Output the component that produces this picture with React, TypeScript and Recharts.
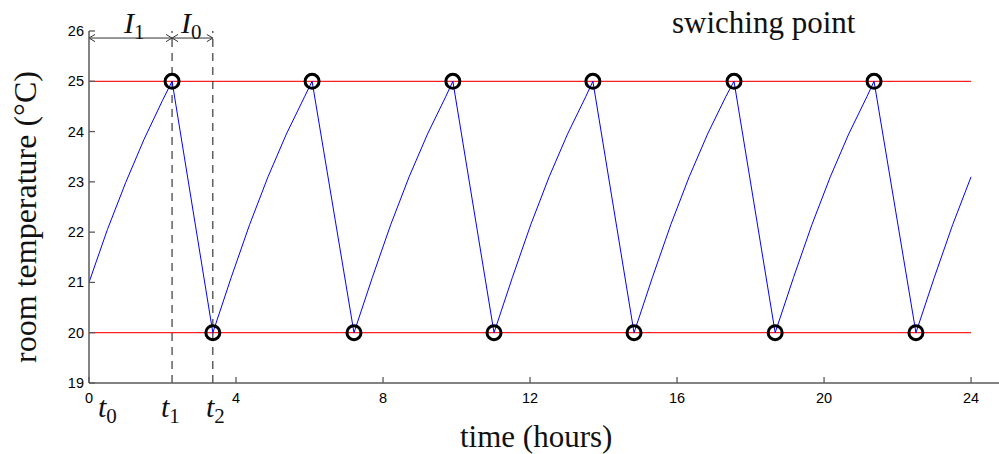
import { ComposedChart, Line, Scatter, XAxis, YAxis, ReferenceLine } from 'recharts';

// room temperature curve (hours, °C)
const TIME = [
  0, 0.5, 1.0, 1.5, 2.0, 2.26,
  3.37, 3.87, 4.37, 4.87, 5.37, 5.87, 6.07,
  7.21, 7.71, 8.21, 8.71, 9.21, 9.71, 9.9,
  11.02, 11.52, 12.02, 12.52, 13.02, 13.52, 13.71,
  14.83, 15.33, 15.83, 16.33, 16.83, 17.33, 17.55,
  18.67, 19.17, 19.67, 20.17, 20.67, 21.17, 21.36,
  22.5, 23.0, 23.5, 24.0,
];
const TEMP = [
  21.0, 22.05, 22.99, 23.85, 24.62, 25.0,
  20.0, 21.1, 22.15, 23.1, 23.95, 24.7, 25.0,
  20.0, 21.1, 22.15, 23.1, 23.95, 24.7, 25.0,
  20.0, 21.1, 22.15, 23.1, 23.95, 24.7, 25.0,
  20.0, 21.1, 22.15, 23.1, 23.95, 24.7, 25.0,
  20.0, 21.1, 22.15, 23.1, 23.95, 24.7, 25.0,
  20.0, 21.1, 22.15, 23.1,
];

// switching points
const SWITCH_T = [2.26, 3.37, 6.07, 7.21, 9.9, 11.02, 13.71, 14.83, 17.55, 18.67, 21.36, 22.5];
const SWITCH_TEMP = [25, 20, 25, 20, 25, 20, 25, 20, 25, 20, 25, 20];

const X_TICKS = [0, 4, 8, 12, 16, 20, 24];
const Y_TICKS = [19, 20, 21, 22, 23, 24, 25, 26];
const LIMITS = [20, 25];

const curve = TIME.map((t, i) => ({ t, temp: TEMP[i] }));
const points = SWITCH_T.map((t, i) => ({ t, temp: SWITCH_TEMP[i] }));

const T1 = SWITCH_T[0];
const T2 = SWITCH_T[1];
const ARROW_Y = 25.86;

const AXIS = '#5a5a5a';
const SERIF = '"Liberation Serif", "DejaVu Serif", serif';
const SANS = '"Liberation Sans", Arial, sans-serif';

const YTick = (props: any) => {
  const { x, y, payload } = props;
  return (
    <g>
      <line x1={x} x2={x + 6} y1={y} y2={y} stroke={AXIS} strokeWidth={1.3} />
      <text x={x - 5} y={y + 5} textAnchor="end" fontSize={14.5} fontFamily={SANS} fill="#000">
        {payload.value}
      </text>
    </g>
  );
};

const XTick = (props: any) => {
  const { x, y, payload } = props;
  return (
    <g>
      <line x1={x} x2={x} y1={y} y2={y - 6} stroke={AXIS} strokeWidth={1.3} />
      <text x={x} y={y + 20} textAnchor="middle" fontSize={14.5} fontFamily={SANS} fill="#000">
        {payload.value}
      </text>
    </g>
  );
};

const Ring = (props: any) => (
  <circle cx={props.cx} cy={props.cy} r={7} fill="none" stroke="#000" strokeWidth={3} />
);

const Arrow = (props: any) => {
  const { x1, y1, x2, y2 } = props;
  const h = 6;
  return (
    <g stroke="#333" strokeWidth={1} fill="none">
      <line x1={x1} y1={y1} x2={x2} y2={y2} />
      <path d={`M${x1 + h},${y1 - h * 0.6} L${x1},${y1} L${x1 + h},${y1 + h * 0.6}`} />
      <path d={`M${x2 - h},${y2 - h * 0.6} L${x2},${y2} L${x2 - h},${y2 + h * 0.6}`} />
    </g>
  );
};

const label = (left: number, top: number, size: number, content: any) => (
  <div
    style={{
      position: 'absolute',
      left,
      top,
      fontFamily: SERIF,
      fontSize: size,
      lineHeight: 1,
      color: '#111',
      whiteSpace: 'nowrap',
    }}
  >
    {content}
  </div>
);

const sub = (s: string) => (
  <span style={{ fontStyle: 'normal', fontSize: '0.7em', position: 'relative', top: '0.28em' }}>{s}</span>
);

export default function App() {
  return (
    <div style={{ position: 'absolute', left: 0, top: 0, width: 999, height: 454, background: '#fff' }}>
      <ComposedChart width={999} height={454} margin={{ top: 31, right: 0, bottom: 41, left: 29 }}>
        <XAxis
          type="number"
          dataKey="t"
          domain={[0, 24.76]}
          ticks={X_TICKS}
          allowDataOverflow
          height={30}
          tickSize={0}
          tickMargin={0}
          tickLine={false}
          axisLine={{ stroke: AXIS, strokeWidth: 1.5 }}
          tick={<XTick />}
        />
        <YAxis
          type="number"
          dataKey="temp"
          domain={[19, 26]}
          ticks={Y_TICKS}
          width={60}
          tickSize={0}
          tickMargin={0}
          tickLine={false}
          axisLine={{ stroke: AXIS, strokeWidth: 1.5 }}
          tick={<YTick />}
        />
        {LIMITS.map((v) => (
          <ReferenceLine
            key={v}
            segment={[{ x: 0, y: v }, { x: 24, y: v }]}
            stroke="#ff2020"
            strokeWidth={1.2}
            ifOverflow="extendDomain"
          />
        ))}
        <ReferenceLine x={T1} stroke="#111" strokeDasharray="8 6" strokeWidth={1} />
        <ReferenceLine x={T2} stroke="#111" strokeDasharray="8 6" strokeWidth={1} />
        <ReferenceLine segment={[{ x: 0, y: ARROW_Y }, { x: T1, y: ARROW_Y }]} shape={Arrow} />
        <ReferenceLine segment={[{ x: T1, y: ARROW_Y }, { x: T2, y: ARROW_Y }]} shape={Arrow} />
        <Scatter data={points} dataKey="temp" shape={Ring} isAnimationActive={false} />
        <Line
          data={curve}
          dataKey="temp"
          type="linear"
          stroke="#0000ff"
          strokeWidth={1}
          dot={false}
          activeDot={false}
          isAnimationActive={false}
        />
      </ComposedChart>

      {label(124, 8, 30, <span><i>I</i>{sub('1')}</span>)}
      {label(181, 8, 30, <span><i>I</i>{sub('0')}</span>)}
      {label(98, 392, 30, <span><i>t</i>{sub('0')}</span>)}
      {label(161, 392, 30, <span><i>t</i>{sub('1')}</span>)}
      {label(206, 392, 30, <span><i>t</i>{sub('2')}</span>)}
      {label(672, 7, 31, 'swiching point')}
      {label(460, 421, 31, 'time (hours)')}
      <div
        style={{
          position: 'absolute',
          left: 25,
          top: 217,
          transform: 'translate(-50%, -50%) rotate(-90deg)',
          fontFamily: SERIF,
          fontSize: 32,
          lineHeight: 1,
          color: '#111',
          whiteSpace: 'nowrap',
        }}
      >
        room temperature (°C)
      </div>
    </div>
  );
}
